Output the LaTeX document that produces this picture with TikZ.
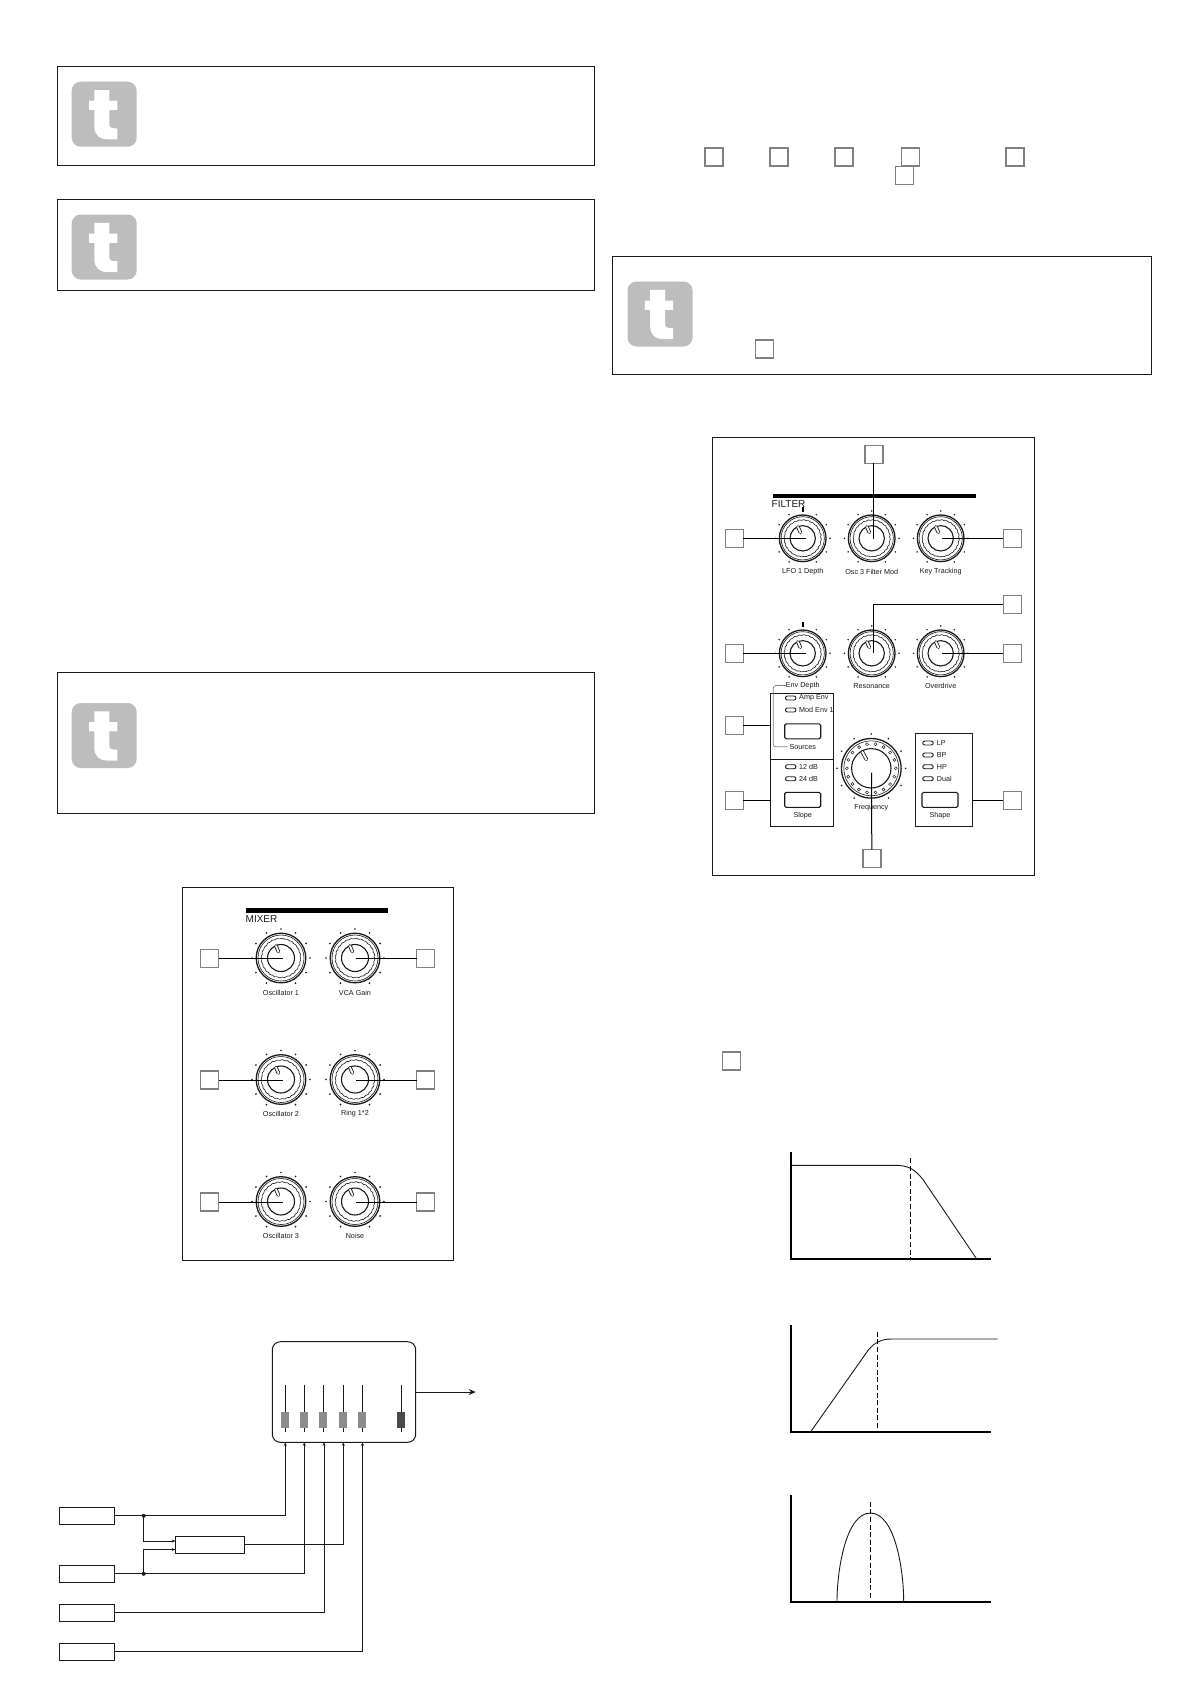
\documentclass[tikz,border=0pt]{standalone}
\usepackage{fontspec}
\setmainfont{Liberation Sans}
\usetikzlibrary{arrows.meta}
\definecolor{sqgray}{HTML}{808080}
\definecolor{icongray}{HTML}{BDBDBD}
\definecolor{ink}{HTML}{1A1A1A}
\tikzset{
  frame/.style={draw=ink,line width=1pt,fill=white},
  sq/.style={draw=sqgray,line width=1.4pt,fill=white,minimum size=18pt,inner sep=0pt,outer sep=0pt},
  conn/.style={draw=black,line width=1pt},
  wire/.style={draw=ink,line width=0.9pt},
  wirearrow/.style={wire,-{Stealth[length=3.5pt,width=3pt]}},
  inbox/.style={draw=ink,line width=0.9pt,inner sep=0pt,outer sep=0pt,minimum width=55.4pt,minimum height=17pt},
  lab/.style={font=\fontsize{7.2}{8}\selectfont,text=ink,inner sep=0pt},
  ledlab/.style={lab,anchor=west},
  title/.style={font=\fontsize{10}{11}\selectfont,text=ink,inner sep=0pt,anchor=west},
  led/.style={draw=ink,line width=0.9pt,rounded corners=2pt,minimum width=10.5pt,minimum height=4pt,inner sep=0pt},
  btn/.style={draw=ink,line width=1.1pt,rounded corners=1.5pt,minimum width=36pt,minimum height=15pt,inner sep=0pt},
  axis/.style={draw=black,line width=1.6pt},
  curve/.style={draw=ink,line width=0.9pt},
  cut/.style={draw=black,line width=0.8pt,dash pattern=on 5pt off 2.6pt},
  fader/.style={draw=ink,line width=0.8pt},
}
\newcommand{\tipbox}[4]{% x1 y1 x2 y2 frame
  \draw[frame] (#1,#2) rectangle (#3,#4);}
\newcommand{\tipicon}[2]{%
  \begin{scope}[shift={(#1,#2)}]
    \fill[icongray,rounded corners=9pt] (0,0) rectangle (65,65);
    \fill[white] (22.6,8.3)--(37.6,8.3)--(37.6,19)--(45.6,19)--(45.6,28.3)--(37.6,28.3)--(37.6,42)
      .. controls (37.6,45.5) and (39,46.6) .. (42,46.6) --(45.6,46.6)--(45.6,57.6)--(37,57.6)
      .. controls (27,57.6) and (22.6,53) .. (22.6,44) --(22.6,28.3)--(17.3,28.3)--(17.3,19)--(22.6,19)--cycle;
  \end{scope}}
\newcommand{\knobat}[4]{% x y scale topbar(0/1)
  \begin{scope}[shift={(#1,#2)},scale=#3]
    \foreach \a in {-150,-120,...,150}{\fill[ink] ({29*sin(\a)},{-29*cos(\a)}) circle (0.9);}
    \ifnum#4=1 \fill[black] (-0.9,-33) rectangle (0.9,-28.5);\fi
    \draw[ink,line width=1.3pt] (0,0) circle (24.8);
    \draw[ink,line width=0.6pt] (0,0) circle (23);
    \draw[ink,line width=0.6pt,smooth] plot[domain=0:360,samples=121] ({(19.5+0.35*sin(24*\x))*cos(\x)},{(19.5+0.35*sin(24*\x))*sin(\x)});
    \draw[ink,line width=1.1pt] (0,0) circle (13.5);
    \draw[ink,line width=3.6pt,line cap=round] (-5,-12) -- (-2.6,-6.5);
    \draw[white,line width=1.9pt,line cap=round] (-5,-12) -- (-2.6,-6.5);
  \end{scope}}
\begin{document}
\begin{tikzpicture}[x=1pt,y=-1pt]
\useasboundingbox (0,0) rectangle (1191,1684);
\fill[white] (0,0) rectangle (1191,1684);
% tip boxes
\tipbox{57.3}{66.5}{594.5}{165.5}\tipicon{71.7}{81.7}
\tipbox{57.3}{199}{594.5}{290}\tipicon{71.7}{214.5}
\tipbox{57.3}{672.5}{594.5}{813}\tipicon{71.7}{703}
\tipbox{612.5}{256}{1151}{374}\tipicon{627.5}{281.5}
% floating squares
\node[sq] (t1) at (714,156.8) {};
\node[sq] (t2) at (779,156.8) {};
\node[sq] (t3) at (844,156.8) {};
\node[sq] (t4) at (910.5,156.8) {};
\node[sq] (t5) at (1015,156.8) {};
\node[sq] (t6) at (904.5,175.5) {};
\node[sq] (t7) at (764.5,349) {};
\node[sq] (t8) at (731.5,1061) {};
% ---------- MIXER panel
\draw[frame] (182.5,887.5) rectangle (453.7,1260);
\fill[black] (246,908) rectangle (388,913);
\node[title] (mixt) at (245.5,919.3) {MIXER};
\foreach \y/\la/\lb/\n in {958/Oscillator 1/VCA Gain/a,1079.5/Oscillator 2/Ring 1*2/b,1201.5/Oscillator 3/Noise/c}{
  \knobat{281}{\y}{1}{0}
  \knobat{355}{\y}{1}{0}
  \node[lab] (ml\n) at (281,\y+34.5) {\la};
  \node[lab] (mr\n) at (355,\y+34.5) {\lb};
  \node[sq] (sl\n) at (209.5,\y+0.5) {};
  \node[sq] (sr\n) at (425.7,\y+0.5) {};
  \coordinate (kl\n) at (283.3,\y+0.5);
  \coordinate (kr\n) at (355.7,\y+0.5);
  \draw[conn] (sl\n.east) -- (kl\n);
  \draw[conn] (sr\n.west) -- (kr\n);
}
% ---------- FILTER panel
\draw[frame] (712.5,437.5) rectangle (1034.7,875.3);
\fill[black] (773,493.7) rectangle (976,498);
\node[title] (filt) at (771.5,504.3) {FILTER};
\knobat{802.7}{538.3}{0.94}{1}
\knobat{871.7}{538.3}{0.94}{0}
\knobat{940.7}{538.3}{0.94}{0}
\knobat{802.7}{653.3}{0.94}{1}
\knobat{871.7}{653.3}{0.94}{0}
\knobat{940.7}{653.3}{0.94}{0}
\node[lab] (f1) at (802.7,572) {LFO 1 Depth};
\node[lab] (f2) at (871.7,572) {Osc 3 Filter Mod};
\node[lab] (f3) at (940.7,572) {Key Tracking};
\node[lab] (f4) at (802.7,686) {Env Depth};
\node[lab] (f5) at (871.7,686) {Resonance};
\node[lab] (f6) at (940.7,686) {Overdrive};
\node[sq] (fs1) at (734.2,538.5) {};
\node[sq] (fs2) at (873.8,454.3) {};
\node[sq] (fs3) at (1012.2,538.5) {};
\node[sq] (fs4) at (734.2,653.2) {};
\node[sq] (fs5) at (1012.2,604.2) {};
\node[sq] (fs6) at (1012.2,653.2) {};
\coordinate (c1) at (805.7,538.5);
\coordinate (c2) at (873.8,538.5);
\coordinate (c3) at (942,538.5);
\coordinate (c4) at (805.7,653.2);
\coordinate (c5) at (873.3,652.7);
\coordinate (c6) at (942,653.2);
\draw[conn] (fs1.east) -- (c1);
\draw[conn] (fs2.south) -- (c2);
\draw[conn] (fs3.west) -- (c3);
\draw[conn] (fs4.east) -- (c4);
\draw[conn] (fs5.west) -| (c5);
\draw[conn] (fs6.west) -- (c6);
% source box
\draw[frame] (770.3,693.3) rectangle (833.7,759.3);
\draw[frame] (770.3,759.3) rectangle (833.7,826);
\draw[frame] (915.3,733.3) rectangle (972.7,826);
\coordinate (brT) at (786,685.5);
\coordinate (brB) at (787.5,746.8);
\draw[sqgray,line width=0.7pt,rounded corners=2.5pt] (brT) -- (773.3,685.5) -- (773.3,746.8) -- (brB);
\node[lab] (f7) at (802.7,747) {Sources};
\node[led] (l1) at (790.7,698) {};
\node[ledlab] (l1t) at (799,698) {Amp Env};
\node[led] (l2) at (790.7,710) {};
\node[ledlab] (l2t) at (799,710) {Mod Env 1};
\node[btn] (b1) at (802.7,731.3) {};
\node[led] (l3) at (790.7,766.7) {};
\node[ledlab] (l3t) at (799,766.7) {12 dB};
\node[led] (l4) at (790.7,778.7) {};
\node[ledlab] (l4t) at (799,778.7) {24 dB};
\node[btn] (b2) at (802.7,799.8) {};
\node[lab] (f8) at (802.7,815.3) {Slope};
\node[led] (l5) at (928,743) {};
\node[ledlab] (l5t) at (936.7,743) {LP};
\node[led] (l6) at (928,755) {};
\node[ledlab] (l6t) at (936.7,755) {BP};
\node[led] (l7) at (928,766.7) {};
\node[ledlab] (l7t) at (936.7,766.7) {HP};
\node[led] (l8) at (928,778.7) {};
\node[ledlab] (l8t) at (936.7,778.7) {Dual};
\node[btn] (b3) at (940,799.8) {};
\node[lab] (f9) at (940,815.3) {Shape};
% frequency knob
\begin{scope}[shift={(871.3,768.3)}]
  \foreach \a in {-150,-120,...,150}{\fill[ink] ({34.3*sin(\a)},{-34.3*cos(\a)}) circle (0.9);}
  \draw[ink,line width=1.3pt] (0,0) circle (29.8);
  \draw[ink,line width=0.6pt] (0,0) circle (27.5);
  \foreach \a in {0,20,...,340}{\draw[ink,line width=0.5pt] (\a:24.5) circle (1.5);}
  \draw[ink,line width=1.1pt] (0,0) circle (19.7);
  \draw[ink,line width=3.6pt,line cap=round] (-9,-16.5) -- (-5,-9);
  \draw[white,line width=1.9pt,line cap=round] (-9,-16.5) -- (-5,-9);
\end{scope}
\node[lab,fill=white,inner sep=0.5pt] (f10) at (871.3,807.3) {Frequency};
\coordinate (c7) at (871.5,772.7);
\node[sq] (fs7) at (871.8,858.7) {};
\draw[conn] (c7) -- (fs7.north);
\node[sq] (fs8) at (734.2,725.5) {};
\node[sq] (fs9) at (734.2,800.5) {};
\node[sq] (fs10) at (1012.2,800.5) {};
\coordinate (e8) at (770.3,725.5);
\coordinate (e9) at (770.3,800.5);
\coordinate (e10) at (972.7,800.5);
\draw[conn] (fs8.east) -- (e8);
\draw[conn] (fs9.east) -- (e9);
\draw[conn] (fs10.west) -- (e10);
% ---------- response graphs
\draw[axis] (791,1151.7) |- (990.7,1259);
\draw[curve] (791,1165.3) -- (895,1165.3) .. controls (908,1165.3) and (915,1169) .. (923.3,1180) -- (976.7,1259);
\draw[cut] (910.3,1158.3) -- (910.3,1259);
\draw[axis] (791,1325) |- (990.7,1431.7);
\draw[curve] (810.7,1431.7) -- (868.3,1350) .. controls (875,1342) and (882,1339) .. (891.7,1339) -- (997.7,1339);
\draw[cut] (877.3,1331.7) -- (877.3,1431.7);
\draw[axis] (791,1495) |- (990.7,1601.7);
\draw[curve] (837,1601.7) .. controls (837,1570) and (846,1513) .. (870.3,1513) .. controls (895,1513) and (903.7,1570) .. (903.7,1601.7);
\draw[cut] (870.3,1501.7) -- (870.3,1601.7);
% ---------- mixer block diagram
\node[draw=ink,line width=1pt,rounded corners=8pt,minimum width=143.4pt,minimum height=100.6pt,inner sep=0pt,outer sep=0pt] (mix) at (344,1392) {};
\foreach \x/\n/\c in {285.3/1/8C8C8C,304.3/2/8C8C8C,323.3/3/8C8C8C,343.3/4/8C8C8C,362.3/5/8C8C8C,401.3/6/4A4A4A}{
  \draw[fader] (\x,1385) -- (\x,1431.7);
  \definecolor{fc}{HTML}{\c}
  \fill[fc] (\x-4,1412) rectangle (\x+4,1428);
}
\coordinate (out) at (475.7,1392);
\draw[wire,-{Stealth[length=7pt,width=6pt]}] (mix.east) -- (out);
\node[inbox] (i1) at (87,1515.8) {};
\node[inbox] (i2) at (87,1573.8) {};
\node[inbox] (i3) at (87,1612.8) {};
\node[inbox] (i4) at (87,1651.6) {};
\node[inbox,minimum width=69.4pt] (ring) at (210,1544.8) {};
\coordinate (m1) at (285.3,1442.3);
\coordinate (m2) at (304.3,1442.3);
\coordinate (m3) at (324,1442.3);
\coordinate (m4) at (343.3,1442.3);
\coordinate (m5) at (362.5,1442.3);
\coordinate (d1) at (143.7,1515.8);
\coordinate (d2) at (143.7,1573.8);
\coordinate (r1) at (175.3,1541);
\coordinate (r2) at (175.3,1549.5);
\draw[wirearrow] (i1.east) -| (m1);
\draw[wirearrow] (i2.east) -| (m2);
\draw[wirearrow] (i3.east) -| (m3);
\draw[wirearrow] (ring.east) -| (m4);
\draw[wirearrow] (i4.east) -| (m5);
\draw[wirearrow] (d1) |- (r1);
\draw[wirearrow] (d2) |- (r2);
\fill[ink] (d1) circle (2);
\fill[ink] (d2) circle (2);
\end{tikzpicture}
\end{document}
